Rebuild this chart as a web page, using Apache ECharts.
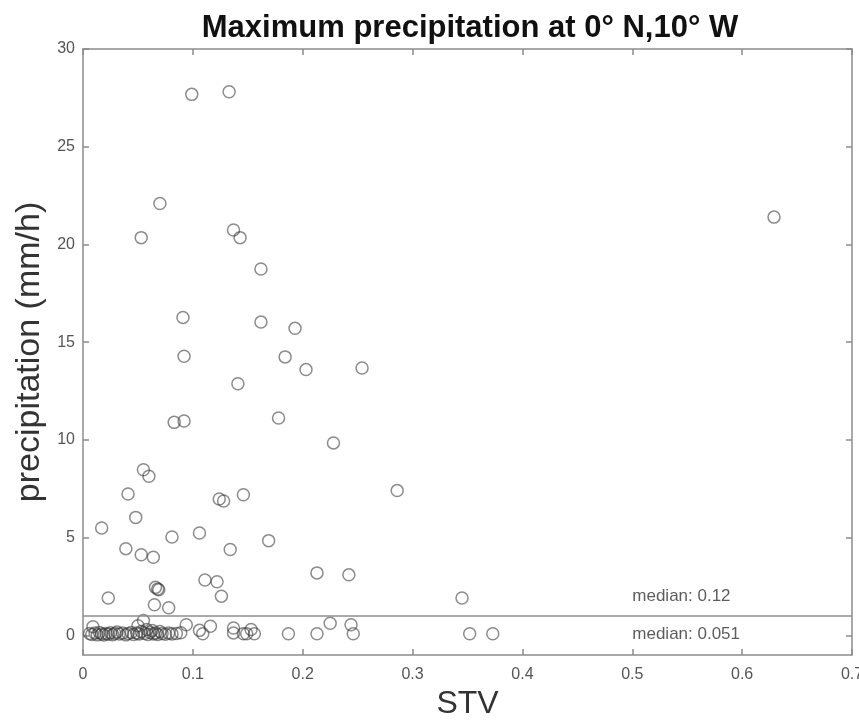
<!DOCTYPE html>
<html>
<head>
<meta charset="utf-8">
<script src="https://cdn.jsdelivr.net/npm/echarts@6/dist/echarts.min.js"></script>
<style>
  html, body { margin: 0; padding: 0; background: #fff; }
  #chart { width: 859px; height: 720px; }
</style>
</head>
<body>
<div id="chart"></div>
<script>
// STV and max precipitation (mm/h)
var stv = [
  0.099, 0.133, 0.070, 0.053, 0.137, 0.143, 0.162, 0.091, 0.162, 0.193,
  0.092, 0.184, 0.203, 0.254, 0.141, 0.083, 0.092, 0.178, 0.228, 0.055,
  0.060, 0.041, 0.124, 0.128, 0.146, 0.286, 0.048, 0.017, 0.081, 0.106,
  0.169, 0.039, 0.134, 0.053, 0.064, 0.111, 0.122, 0.213, 0.242, 0.126,
  0.066, 0.068, 0.069, 0.065, 0.078, 0.023, 0.345, 0.629,
  0.094, 0.106, 0.109, 0.116, 0.137, 0.137, 0.146, 0.149, 0.153, 0.156,
  0.187, 0.213, 0.225, 0.244, 0.246, 0.352, 0.373,
  0.006, 0.008, 0.009, 0.011, 0.013, 0.015, 0.017, 0.019, 0.021, 0.023,
  0.025, 0.027, 0.029, 0.031, 0.033, 0.036, 0.039, 0.041, 0.044, 0.046,
  0.049, 0.050, 0.051, 0.053, 0.055, 0.056, 0.058, 0.059, 0.061, 0.063,
  0.064, 0.066, 0.068, 0.070, 0.072, 0.075, 0.078, 0.081, 0.085, 0.089
]
var precip = [
  27.68, 27.81, 22.10, 20.35, 20.74, 20.35, 18.75, 16.27, 16.03, 15.71,
  14.28, 14.25, 13.60, 13.68, 12.88, 10.90, 10.97, 11.12, 9.85, 8.48,
  8.14, 7.24, 6.98, 6.88, 7.20, 7.41, 6.04, 5.50, 5.04, 5.24,
  4.85, 4.44, 4.40, 4.13, 4.00, 2.84, 2.75, 3.20, 3.10, 2.01,
  2.46, 2.38, 2.34, 1.57, 1.42, 1.92, 1.92, 21.40,
  0.55, 0.26, 0.09, 0.47, 0.38, 0.13, 0.09, 0.09, 0.30, 0.09,
  0.09, 0.09, 0.62, 0.55, 0.09, 0.09, 0.09,
  0.10, 0.05, 0.45, 0.12, 0.03, 0.15, 0.08, 0.02, 0.10, 0.06,
  0.14, 0.04, 0.10, 0.18, 0.07, 0.12, 0.03, 0.10, 0.15, 0.05,
  0.12, 0.50, 0.08, 0.20, 0.76, 0.10, 0.30, 0.05, 0.15, 0.25,
  0.08, 0.12, 0.05, 0.20, 0.10, 0.06, 0.12, 0.08, 0.10, 0.14
]
var xTicks = [0, 0.1, 0.2, 0.3, 0.4, 0.5, 0.6, 0.7]
var yTicks = [0, 5, 10, 15, 20, 25, 30]
var splitValue = 1
var medianLabels = ['median: 0.12', 'median: 0.051']
var medianPos = [[0.5, 2.0], [0.5, 0.08]]

var axisGray = '#8c8c8c'
var labelGray = '#555'
var font = 'Liberation Sans'

var points = stv.map(function (x, i) { return [x, precip[i]] })

function boxAxis(extra) {
  // plain axis with inward ticks, used for the top/right box edges too
  return Object.assign({
    type: 'value',
    axisLine: { show: true, onZero: false, lineStyle: { color: axisGray, width: 1.5 } },
    axisTick: { show: true, inside: true, length: 6, lineStyle: { color: axisGray, width: 1.5 } },
    axisLabel: { show: false },
    splitLine: { show: false }
  }, extra)
}

var chart = echarts.init(document.getElementById('chart'))
chart.setOption({
  animation: false,
  title: {
    text: 'Maximum precipitation at 0° N,10° W',
    left: 465,
    textAlign: 'center',
    top: 8,
    textStyle: {
      color: '#111',
      fontWeight: 'bold',
      fontSize: 31,
      fontFamily: font
    }
  },
  grid: { left: 83, right: 7, top: 49, bottom: 65, outerBoundsMode: 'none' },
  xAxis: [
    boxAxis({
      min: 0, max: 0.7, interval: 0.1,
      name: 'STV',
      nameLocation: 'middle',
      nameGap: 33,
      nameTextStyle: { fontSize: 32, color: '#333', fontFamily: font },
      axisTick: { show: true, inside: true, length: 6, lineStyle: { color: axisGray, width: 1.5 }, customValues: xTicks },
      axisLabel: {
        color: labelGray, fontSize: 16, margin: 12, fontFamily: font,
        customValues: xTicks,
        formatter: function (v) { return String(+v.toFixed(1)) }
      }
    }),
    boxAxis({
      position: 'top',
      min: 0, max: 0.7, interval: 0.1,
      axisTick: { show: true, inside: true, length: 6, lineStyle: { color: axisGray, width: 1.5 }, customValues: xTicks }
    })
  ],
  yAxis: [
    boxAxis({
      min: -1, max: 30,
      name: 'precipitation (mm/h)',
      nameLocation: 'middle',
      nameGap: 29,
      nameTextStyle: { fontSize: 34, color: '#333', fontFamily: font },
      axisTick: { show: true, inside: true, length: 6, lineStyle: { color: axisGray, width: 1.5 }, customValues: yTicks },
      axisLabel: { color: labelGray, fontSize: 16, margin: 8, fontFamily: font, customValues: yTicks }
    }),
    boxAxis({
      position: 'right',
      min: -1, max: 30,
      axisTick: { show: true, inside: true, length: 6, lineStyle: { color: axisGray, width: 1.5 }, customValues: yTicks }
    })
  ],
  series: [
    {
      type: 'scatter',
      data: points,
      symbol: 'circle',
      symbolSize: 12,
      itemStyle: {
        color: 'rgba(0,0,0,0)',
        borderColor: 'rgba(55,55,55,0.72)',
        borderWidth: 1.5
      },
      markLine: {
        silent: true,
        symbol: 'none',
        label: { show: false },
        lineStyle: { color: axisGray, width: 1.5, type: 'solid' },
        data: [{ yAxis: splitValue }]
      }
    },
    {
      type: 'scatter',
      symbolSize: 0,
      silent: true,
      data: medianPos.map(function (p, i) { return { value: p, name: medianLabels[i] } }),
      label: {
        show: true,
        position: 'right',
        distance: 0,
        formatter: '{b}',
        color: '#333',
        fontSize: 17,
        fontFamily: font
      }
    }
  ]
})
</script>
</body>
</html>
